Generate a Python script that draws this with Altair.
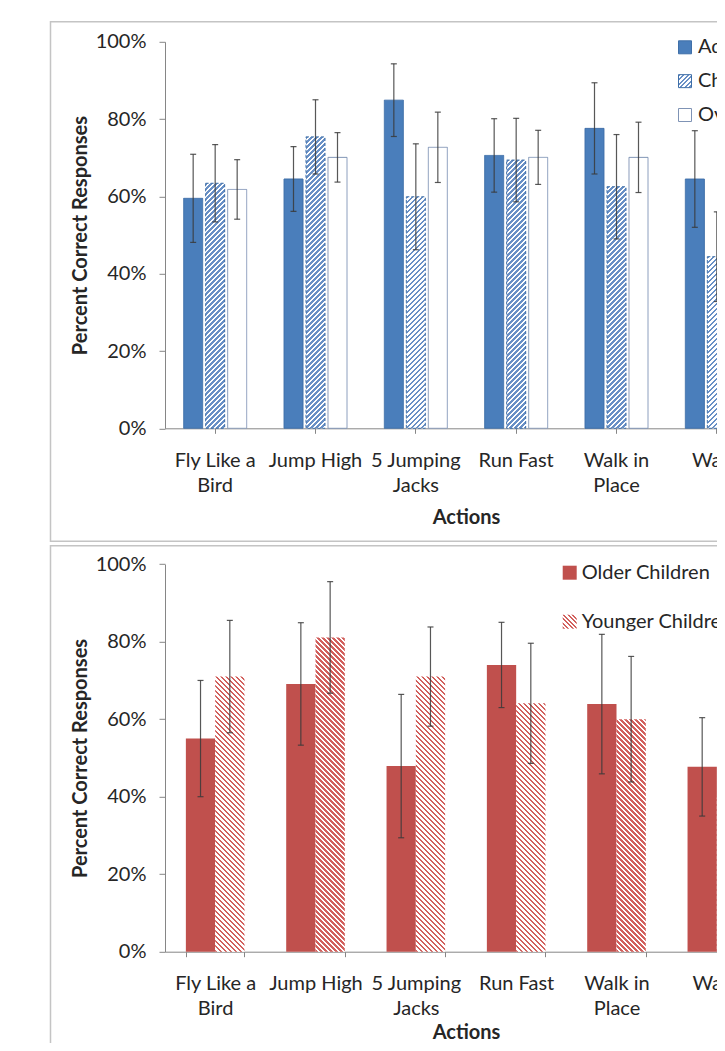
import json
import altair as alt

# ---------------- data ----------------
categories = ["Fly Like a Bird", "Jump High", "5 Jumping Jacks", "Run Fast", "Walk in Place", "Wave"]
label_lines = {
    "Fly Like a Bird": ["Fly Like a", "Bird"],
    "5 Jumping Jacks": ["5 Jumping", "Jacks"],
    "Walk in Place": ["Walk in", "Place"],
}

groups_top = ["Adults", "Children", "Overall"]
adults = [59.5, 64.5, 84.9, 70.6, 77.6, 64.5]
adults_err = [11.4, 8.4, 9.4, 9.5, 11.8, 12.5]
children = [63.4, 75.4, 59.9, 69.4, 62.5, 44.4]
children_err = [10.0, 9.6, 13.7, 10.8, 13.5, 11.6]
overall = [61.8, 70.1, 72.7, 70.1, 70.1, 54.0]
overall_err = [7.7, 6.4, 9.1, 7.0, 9.1, 8.5]

groups_bottom = ["Older Children", "Younger Children"]
older = [55.0, 69.1, 47.9, 74.0, 63.9, 47.7]
older_err = [15.0, 15.8, 18.5, 11.0, 18.0, 12.7]
younger = [71.0, 81.1, 71.0, 64.1, 60.0, 39.8]
younger_err = [14.5, 14.4, 12.8, 15.5, 16.2, 14.0]

y_ticks = [0, 20, 40, 60, 80, 100]

# ---------------- layout / style ----------------
SVG_W, SVG_H = 709, 1035          # the figure is a crop of a wider chart
PAD_L, PAD_T = 157, 33.8
PW = 602                           # full category range (runs past the crop)
VIEW_W = SVG_W - PAD_L
TOP_RANGE = [386.5, 0]
BOT_RANGE = [909.9, 522.4]
VIEW_H = BOT_RANGE[0]
TOP_BAR_W = 19.0
BOT_BAR_W = 29.3
PERIOD = 5.0
FONT = "Lato"
TXT = "#262626"
AX = "#868686"
FRAME = "#C4C4C4"
BLUE = "#4A7EBB"
BLUE_EDGE = "#3F6FA8"
STRIPE_BLUE = "#6990C6"
OVERALL_EDGE = "#7F93B5"
RED = "#C0504D"
STRIPE_RED = "#D2605D"
ERR = "#3A3A3A"


def stripe_fill(w, h, color, frac, direction, period=PERIOD, bg="#ffffff"):
    L = w + h
    k = L / (w * w + h * h)
    if direction == "up":
        x1, y1, x2, y2 = 0, 0, k * w, k * h
    else:
        x1, y1, x2, y2 = 0, 1, k * w, 1 - k * h
    stops = []
    i = 0
    while i * period < L:
        a = i * period / L
        b = min((i + frac) * period / L, 1)
        c = min((i + 1) * period / L, 1)
        stops += [
            {"offset": round(a, 5), "color": color},
            {"offset": round(b, 5), "color": color},
            {"offset": round(b, 5), "color": bg},
            {"offset": round(c, 5), "color": bg},
        ]
        i += 1
    return {"gradient": "linear", "x1": x1, "y1": y1, "x2": x2, "y2": y2, "stops": stops}


top_h = TOP_RANGE[0] - TOP_RANGE[1]
bot_h = BOT_RANGE[0] - BOT_RANGE[1]

top_rows = []
for ci, cat in enumerate(categories):
    for s, vals, errs in [("Adults", adults, adults_err), ("Children", children, children_err),
                          ("Overall", overall, overall_err)]:
        v, e = vals[ci], errs[ci]
        if s == "Adults":
            fill, stroke = BLUE, BLUE_EDGE
        elif s == "Children":
            fill, stroke = stripe_fill(TOP_BAR_W, v / 100 * top_h, STRIPE_BLUE, 0.5, "up"), BLUE_EDGE
        else:
            fill, stroke = "#ffffff", OVERALL_EDGE
        top_rows.append({"action": cat, "series": s, "value": v, "lo": v - e, "hi": v + e,
                         "fillv": fill, "strokev": stroke})

bot_rows = []
for ci, cat in enumerate(categories):
    for s, vals, errs in [("Older Children", older, older_err), ("Younger Children", younger, younger_err)]:
        v, e = vals[ci], errs[ci]
        if s == "Older Children":
            fill = RED
        else:
            fill = stripe_fill(BOT_BAR_W, v / 100 * bot_h, STRIPE_RED, 0.5, "down")
        bot_rows.append({"action": cat, "series": s, "value": v, "lo": v - e, "hi": v + e,
                         "fillv": fill, "strokev": "transparent"})

top_legend = [
    {"series": "Adults", "fillv": BLUE, "strokev": BLUE_EDGE},
    {"series": "Children", "fillv": stripe_fill(13, 13, STRIPE_BLUE, 0.5, "up", period=4.5), "strokev": BLUE_EDGE},
    {"series": "Overall", "fillv": "#ffffff", "strokev": OVERALL_EDGE},
]
bot_legend = [
    {"series": "Older Children", "fillv": RED, "strokev": "transparent"},
    {"series": "Younger Children", "fillv": stripe_fill(14, 14, STRIPE_RED, 0.5, "down", period=4.5),
     "strokev": "transparent"},
]

label_expr = " : ".join(
    "datum.value == '%s' ? %s" % (k, json.dumps(v)) for k, v in label_lines.items()
) + " : datum.value"


def panel(rows, groups, band_pad, off_pad, tick_band, y_range, x_offset, title_pad):
    data = alt.Data(values=rows)
    x_axis = alt.Axis(title="Actions", orient="bottom", offset=x_offset, labelAngle=0, labelExpr=label_expr,
                      labelFont=FONT, labelFontSize=20, labelColor=TXT, labelLineHeight=25, labelPadding=17,
                      labelOverlap=False, tickSize=5, tickColor=AX, domainColor=AX, tickBand=tick_band,
                      titleFont=FONT, titleFontSize=20, titleFontWeight="bold", titleColor=TXT,
                      titlePadding=title_pad)
    y_axis = alt.Axis(title="Percent Correct Responses", orient="left", values=y_ticks,
                      labelExpr="datum.value + '%'", grid=False, tickSize=6, tickColor=AX, domainColor=AX,
                      labelPadding=13, labelFont=FONT, labelFontSize=20, labelColor=TXT,
                      titleFont=FONT, titleFontSize=20, titleFontWeight="bold", titleColor=TXT, titlePadding=5)
    xscale = alt.Scale(domain=categories, range=[0, PW], paddingInner=band_pad, paddingOuter=band_pad / 2)
    x = alt.X("action:N", sort=categories, scale=xscale, axis=x_axis)
    xoff = alt.XOffset("series:N", sort=groups,
                       scale=alt.Scale(domain=groups, paddingInner=off_pad, paddingOuter=0))
    yscale = alt.Scale(domain=[0, 100], range=y_range, nice=False)

    bars = alt.Chart(data).mark_bar(strokeWidth=1).encode(
        x=x, xOffset=xoff,
        y=alt.Y("value:Q", scale=yscale, axis=y_axis),
        fill=alt.Fill("fillv:N", scale=None),
        stroke=alt.Stroke("strokev:N", scale=None),
        strokeDash=alt.condition(alt.datum.series == "Children", alt.value([3, 2]), alt.value([1, 0])),
    )
    rules = alt.Chart(data).mark_rule(color=ERR, strokeWidth=1.2, opacity=0.85).encode(
        x=x, xOffset=xoff, y=alt.Y("lo:Q", scale=yscale), y2="hi:Q")
    cap_lo = alt.Chart(data).mark_tick(color=ERR, size=6, thickness=1.2, opacity=0.85).encode(
        x=x, xOffset=xoff, y=alt.Y("lo:Q", scale=yscale))
    cap_hi = alt.Chart(data).mark_tick(color=ERR, size=6, thickness=1.2, opacity=0.85).encode(
        x=x, xOffset=xoff, y=alt.Y("hi:Q", scale=yscale))
    return alt.layer(bars, rules, cap_lo, cap_hi)


def legend(rows, groups, y_range, sq_x, sq_size, txt_x):
    ly = alt.Y("series:N", scale=alt.Scale(type="point", domain=groups, range=y_range, padding=0), axis=None)
    ldata = alt.Data(values=rows)
    lsq = alt.Chart(ldata).mark_square(size=sq_size, opacity=1, strokeWidth=1).encode(
        x=alt.value(sq_x), y=ly,
        fill=alt.Fill("fillv:N", scale=None),
        stroke=alt.Stroke("strokev:N", scale=None),
    )
    ltxt = alt.Chart(ldata).mark_text(align="left", baseline="middle", font=FONT, fontSize=20,
                                      color=TXT).encode(x=alt.value(txt_x), y=ly, text="series:N")
    return alt.layer(lsq, ltxt)


def frame(top, bottom):
    return alt.Chart(alt.Data(values=[{}])).mark_rect(fillOpacity=0, stroke=FRAME, strokeWidth=1.5).encode(
        x=alt.value(-114.5), x2=alt.value(PW + 250), y=alt.value(top), y2=alt.value(bottom))


top_panel = panel(top_rows, groups_top, 0.372, 0.136, "center", TOP_RANGE, TOP_RANGE[0] - VIEW_H, 12)
bot_panel = panel(bot_rows, groups_bottom, 0.416, 0.0, "extent", BOT_RANGE, 0, 4)
top_leg = legend(top_legend, groups_top, [5.5, 73.2], 520, 169, 533)
bot_leg = legend(bot_legend, groups_bottom, [530.9, 579.9], 404.7, 196, 416.7)

chart = alt.layer(
    top_panel, top_leg, bot_panel, bot_leg, frame(-20.1, 499.5), frame(503.9, VIEW_H + 300)
).resolve_scale(x="independent", y="independent", xOffset="independent").properties(
    width=VIEW_W, height=VIEW_H,
    autosize=alt.AutoSizeParams(type="none"),
    padding={"left": PAD_L, "top": PAD_T, "right": 0, "bottom": SVG_H - PAD_T - VIEW_H},
).configure(font=FONT).configure_view(strokeWidth=0)

chart.save("out.html", embed_options={"renderer": "svg", "actions": False})
